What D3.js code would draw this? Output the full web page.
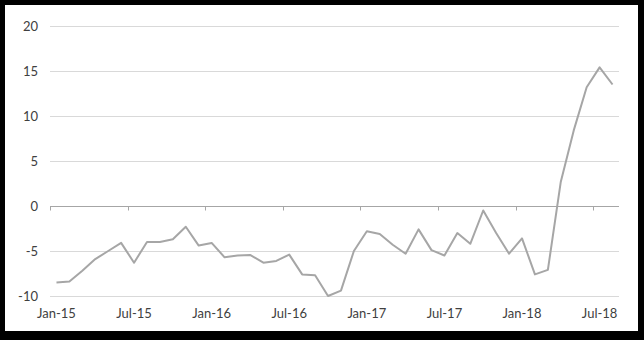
<!DOCTYPE html>
<html>
<head>
<meta charset="utf-8">
<script src="https://cdn.jsdelivr.net/npm/d3@7"></script>
<style>
  html, body { margin: 0; padding: 0; background: #fff; }
  svg { display: block; }
  text { font-family: Lato, "Open Sans", sans-serif; }
</style>
</head>
<body>
<svg id="chart" width="644" height="340"></svg>
<script>
const months = [
  "Jan-15","Feb-15","Mar-15","Apr-15","May-15","Jun-15","Jul-15","Aug-15","Sep-15","Oct-15","Nov-15","Dec-15",
  "Jan-16","Feb-16","Mar-16","Apr-16","May-16","Jun-16","Jul-16","Aug-16","Sep-16","Oct-16","Nov-16","Dec-16",
  "Jan-17","Feb-17","Mar-17","Apr-17","May-17","Jun-17","Jul-17","Aug-17","Sep-17","Oct-17","Nov-17","Dec-17",
  "Jan-18","Feb-18","Mar-18","Apr-18","May-18","Jun-18","Jul-18","Aug-18"
];
const values = [
  -8.5, -8.4, -7.2, -5.9, -5.0, -4.1, -6.3, -4.0, -4.0, -3.7, -2.3, -4.4,
  -4.1, -5.7, -5.5, -5.45, -6.3, -6.1, -5.4, -7.6, -7.7, -10.0, -9.4, -5.0,
  -2.8, -3.1, -4.3, -5.3, -2.6, -4.9, -5.5, -3.0, -4.2, -0.5, -3.0, -5.3,
  -3.6, -7.6, -7.1, 2.7, 8.4, 13.2, 15.4, 13.5
];
const yTicks = [-10, -5, 0, 5, 10, 15, 20];
const xTickLabels = ["Jan-15","Jul-15","Jan-16","Jul-16","Jan-17","Jul-17","Jan-18","Jul-18"];

const svg = d3.select("#chart");
// frame
svg.append("rect").attr("x",0).attr("y",0).attr("width",644).attr("height",340).attr("fill","#000");
svg.append("rect").attr("x",5).attr("y",5).attr("width",633).attr("height",326).attr("fill","#fff");

const x = d3.scaleBand().domain(months).range([50, 619]).paddingInner(0).paddingOuter(0);
const y = d3.scaleLinear().domain([-10, 20]).range([296, 26]);

// gridlines
svg.append("g").selectAll("line").data(yTicks.filter(d => d !== 0)).join("line")
  .attr("x1", 50).attr("x2", 619)
  .attr("y1", d => Math.round(y(d)) + 0.5).attr("y2", d => Math.round(y(d)) + 0.5)
  .attr("stroke", "#d9d9d9").attr("stroke-width", 1);

// y labels
svg.append("g").selectAll("text").data(yTicks).join("text")
  .attr("x", 38).attr("y", d => y(d))
  .attr("dy", "0.35em")
  .attr("text-anchor", "end")
  .attr("font-size", 13)
  .attr("fill", "#404040")
  .text(d => d);

// zero axis line
const y0 = Math.round(y(0)) + 0.5;
svg.append("line").attr("x1", 50).attr("x2", 619).attr("y1", y0).attr("y2", y0)
  .attr("stroke", "#a6a6a6").attr("stroke-width", 1);

// ticks at boundaries every 6 months
svg.append("g").selectAll("line").data(xTickLabels).join("line")
  .attr("x1", d => Math.round(x(d)) + 0.5).attr("x2", d => Math.round(x(d)) + 0.5)
  .attr("y1", y0).attr("y2", y0 + 4)
  .attr("stroke", "#a6a6a6").attr("stroke-width", 1);

// x labels at band centers
svg.append("g").selectAll("text").data(xTickLabels).join("text")
  .attr("x", d => x(d) + x.bandwidth() / 2)
  .attr("y", 313)
  .attr("dy", "0.35em")
  .attr("text-anchor", "middle")
  .attr("font-size", 13)
  .attr("fill", "#404040")
  .text(d => d);

// line
const line = d3.line()
  .x((d, i) => x(months[i]) + x.bandwidth() / 2)
  .y(d => y(d));
svg.append("path").datum(values)
  .attr("d", line)
  .attr("fill", "none")
  .attr("stroke", "#a6a6a6")
  .attr("stroke-width", 2)
  .attr("stroke-linejoin", "round");
</script>
</body>
</html>
